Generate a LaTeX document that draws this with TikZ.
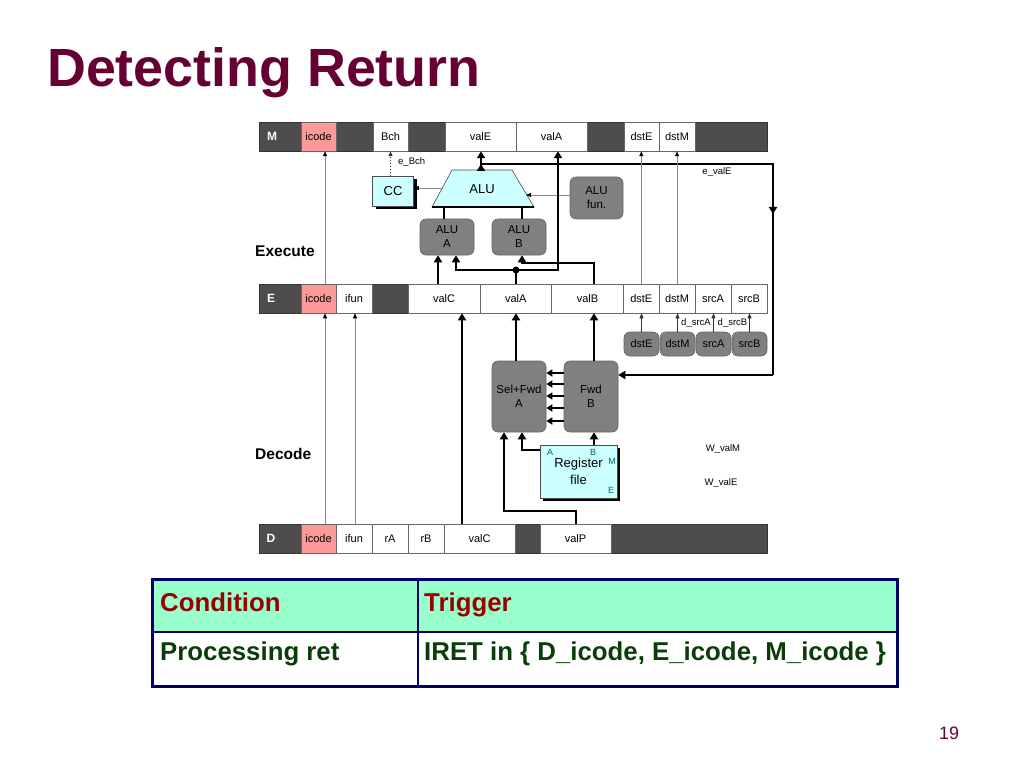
\documentclass[tikz,border=0pt]{standalone}
\usepackage{fontspec}
\setmainfont{Liberation Sans}
\usetikzlibrary{arrows.meta,calc,shadows}
\definecolor{darkbar}{HTML}{4D4D4D}
\definecolor{pinkc}{HTML}{FF9999}
\definecolor{cyanbox}{HTML}{CCFFFF}
\definecolor{graybox}{HTML}{808080}
\definecolor{titlered}{HTML}{660033}
\definecolor{mint}{HTML}{99FFCC}
\definecolor{navy}{HTML}{000066}
\definecolor{hdrred}{HTML}{990000}
\definecolor{bodygreen}{HTML}{0A3D0A}
\definecolor{thingray}{HTML}{888888}
\definecolor{tealc}{HTML}{006666}
\begin{document}
\begin{tikzpicture}[x=1pt,y=-1pt,
  bar/.style={fill=darkbar, draw=black!80, line width=0.6pt, minimum height=29pt, inner sep=0pt},
  cell/.style={fill=white, draw=black!60, line width=0.5pt, minimum height=29pt, inner sep=0pt, font=\fontsize{11}{13}\selectfont},
  pcell/.style={cell, fill=pinkc},
  barlbl/.style={text=white, font=\bfseries\fontsize{12}{14}\selectfont, inner sep=0pt},
  gbox/.style={fill=graybox, draw=black!60, line width=0.6pt, rounded corners=6pt, inner sep=0pt, align=center, font=\fontsize{11.5}{14}\selectfont},
  sbox/.style={gbox, minimum width=35pt, minimum height=24pt, font=\fontsize{11}{13}\selectfont},
  cbox/.style={fill=cyanbox, draw=black!70, line width=0.6pt, inner sep=0pt, align=center, drop shadow={shadow xshift=3pt, shadow yshift=-3pt, fill=black, opacity=1}},
  thk/.style={line width=2.8pt, -{Triangle[length=7pt,width=8pt]}},
  thkline/.style={line width=2.8pt},
  fwdarr/.style={line width=2.4pt, -{Triangle[length=6pt,width=7pt]}},
  thn/.style={draw=thingray, line width=0.8pt, -{Triangle[length=5pt,width=4pt,color=black]}},
  thnb/.style={draw=black!80, line width=0.8pt, -{Triangle[length=5pt,width=4pt]}},
  small/.style={font=\fontsize{9.5}{11}\selectfont, inner sep=0pt},
  rflbl/.style={font=\fontsize{9}{10}\selectfont, text=tealc, inner sep=0pt},
  stage/.style={font=\bfseries\fontsize{15.5}{18}\selectfont, anchor=west, inner sep=0pt},
  tcell/.style={draw=navy, line width=1.2pt, inner sep=0pt},
  hdr/.style={anchor=base west, inner sep=0pt, text=hdrred, font=\bfseries\fontsize{25.8}{30}\selectfont},
  body/.style={anchor=base west, inner sep=0pt, text=bodygreen, font=\bfseries\fontsize{25.8}{30}\selectfont}
]
\useasboundingbox (0,0) rectangle (1024,767);
\fill[white] (0,0) rectangle (1024,767);

% title
\node[anchor=base west, inner sep=0pt, text=titlered, font=\bfseries\fontsize{53.8}{60}\selectfont] (title) at (47,87) {Detecting Return};

% ---------- M register ----------
\node[bar, minimum width=508pt] (Mbar) at (513,136.5) {};
\node[barlbl] (Mlbl) at (272,136.5) {M};
\node[pcell, minimum width=35pt] (Micode) at (318.5,136.5) {icode};
\node[cell, minimum width=35pt] (MBch) at (390.5,136.5) {Bch};
\node[cell, minimum width=71pt] (MvalE) at (480.5,136.5) {valE};
\node[cell, minimum width=71pt] (MvalA) at (551.5,136.5) {valA};
\node[cell, minimum width=35pt] (MdstE) at (641.5,136.5) {dstE};
\node[cell, minimum width=36pt] (MdstM) at (677,136.5) {dstM};

% ---------- E register ----------
\node[bar, minimum width=508pt] (Ebar) at (513,298.5) {};
\node[barlbl] (Elbl) at (271,298.5) {E};
\node[pcell, minimum width=35pt] (Eicode) at (318.5,298.5) {icode};
\node[cell, minimum width=36pt] (Eifun) at (354,298.5) {ifun};
\node[cell, minimum width=72pt] (EvalC) at (444,298.5) {valC};
\node[cell, minimum width=71.5pt] (EvalA) at (515.75,298.5) {valA};
\node[cell, minimum width=72pt] (EvalB) at (587.5,298.5) {valB};
\node[cell, minimum width=35.4pt] (EdstE) at (641.3,298.5) {dstE};
\node[cell, minimum width=36pt] (EdstM) at (677,298.5) {dstM};
\node[cell, minimum width=36pt] (EsrcA) at (713,298.5) {srcA};
\node[cell, minimum width=36pt] (EsrcB) at (749,298.5) {srcB};

% ---------- D register ----------
\node[bar, minimum width=508pt] (Dbar) at (513,538.5) {};
\node[barlbl] (Dlbl) at (271,538.5) {D};
\node[pcell, minimum width=35pt] (Dicode) at (318.5,538.5) {icode};
\node[cell, minimum width=36pt] (Difun) at (354,538.5) {ifun};
\node[cell, minimum width=36pt] (DrA) at (390,538.5) {rA};
\node[cell, minimum width=36pt] (DrB) at (426,538.5) {rB};
\node[cell, minimum width=71pt] (DvalC) at (479.5,538.5) {valC};
\node[cell, minimum width=71pt] (DvalP) at (575.5,538.5) {valP};

% stage labels
\node[stage] (exe) at (255,251) {Execute};
\node[stage] (dec) at (255,454) {Decode};

% ---------- Execute logic ----------
\coordinate (t1) at (452,170);
\coordinate (t2) at (512,170);
\coordinate (t3) at (534,207);
\coordinate (t4) at (432,207);
\path[fill=cyanbox, draw=black!70, line width=0.6pt] (t1) -- (t2) -- (t3) -- (t4) -- cycle;
\draw[line width=2pt] (t4) -- (t3);
\node[font=\fontsize{13}{15}\selectfont, inner sep=0pt] (ALU) at (482,189) {ALU};

\node[cbox, minimum width=41pt, minimum height=30pt, font=\fontsize{13}{15}\selectfont] (CC) at (393,191) {CC};
\node[gbox, minimum width=54pt, minimum height=36pt] (ALUA) at (447,237) {ALU\\A};
\node[gbox, minimum width=54pt, minimum height=36pt] (ALUB) at (519,237) {ALU\\B};
\node[gbox, minimum width=53pt, minimum height=42pt] (ALUfun) at (596.5,198) {ALU\\fun.};

% ALU inputs from ALU A / B
\coordinate (aluInA) at (444,207);
\coordinate (aluInB) at (522,207);
\draw[thkline] (ALUA.north -| aluInA) -- (aluInA);
\draw[thkline] (ALUB.north -| aluInB) -- (aluInB);

% ALU -> CC, ALU fun -> ALU
\coordinate (aluL) at (443,188);
\coordinate (aluR) at (526,195);
\draw[thn] (aluL) -- (CC.east |- aluL);
\draw[thn] (ALUfun.west |- aluR) -- (aluR);

% e_Bch
\draw[black!80, line width=1pt, dotted, -{Triangle[length=5pt,width=4pt]}] (MBch.south |- CC.north) -- (MBch.south);
\node[small, anchor=west] (eBch) at (398,162) {e\_Bch};

% ALU output
\coordinate (aluTop) at (481,170);
\coordinate (junc) at (481,164);
\coordinate (rtop) at (773,164);
\coordinate (rmid) at (773,214);
\coordinate (rbot) at (773,375);
\draw[thk] (aluTop) -- (MvalE.south -| aluTop);
\draw[thk] (aluTop) -- (junc);
\draw[thkline] (junc) -- (rtop) -- (rbot);
\draw[thk] (rtop) -- (rmid);
\node[small] (evalE) at (717,172) {e\_valE};

% valC (E) -> ALU A
\coordinate (xalA1) at (438,0);
\draw[thk] (EvalC.north -| xalA1) -- (ALUA.south -| xalA1);

% valA (E) -> ALU A and M valA
\coordinate (dotA) at (516,270);
\coordinate (xalA2) at (456,0);
\coordinate (xMva) at (558,0);
\draw[thkline] (EvalA.north -| dotA) -- (dotA);
\draw[thk] (dotA) -| (ALUA.south -| xalA2);
\draw[thk] (dotA) -| (MvalA.south -| xMva);
\fill (dotA) circle (3.5pt);

% valB (E) -> ALU B
\coordinate (vbturn) at (594,263);
\coordinate (vbturn2) at (522,263);
\draw[thk] (EvalB.north -| vbturn) -- (vbturn) -- (vbturn2) -- (ALUB.south -| vbturn2);

% thin pass-through lines
\coordinate (xic) at (325,0);
\coordinate (xif) at (355,0);
\draw[thn] (Eicode.north -| xic) -- (Micode.south -| xic);
\draw[thn] (Dicode.north -| xic) -- (Eicode.south -| xic);
\draw[thn] (Difun.north -| xif) -- (Eifun.south -| xif);
\draw[thn] (EdstE.north) -- (EdstE.north |- MdstE.south);
\draw[thn] (EdstM.north) -- (MdstM.south);

% ---------- Decode logic ----------
\node[sbox] (sdstE) at (641.5,344) {dstE};
\node[sbox] (sdstM) at (677.5,344) {dstM};
\node[sbox] (ssrcA) at (713.5,344) {srcA};
\node[sbox] (ssrcB) at (749.5,344) {srcB};
\draw[thnb] (sdstE.north) -- (sdstE.north |- EdstE.south);
\draw[thnb] (sdstM.north) -- (sdstM.north |- EdstM.south);
\draw[thnb] (ssrcA.north) -- (ssrcA.north |- EsrcA.south);
\draw[thnb] (ssrcB.north) -- (ssrcB.north |- EsrcB.south);
\node[small, anchor=east] (dsrcA) at (711,323) {d\_srcA};
\node[small, anchor=east] (dsrcB) at (747.5,323) {d\_srcB};

\node[gbox, minimum width=54pt, minimum height=71pt] (SelA) at (519,396.5) {Sel+Fwd\\A};
\node[gbox, minimum width=54pt, minimum height=71pt] (FwdB) at (591,396.5) {Fwd\\B};
\node[cbox, minimum width=77pt, minimum height=53pt, font=\fontsize{13}{17}\selectfont] (RF) at (578.5,471.5) {Register\\file};
\node[rflbl] (rfA) at (550,452) {A};
\node[rflbl] (rfB) at (593,452) {B};
\node[rflbl] (rfM) at (612,461) {M};
\node[rflbl] (rfE) at (611,490) {E};

\node[small] (WvalM) at (723,449) {W\_valM};
\node[small] (WvalE) at (721,483) {W\_valE};

% e_valE into Fwd B
\draw[thk] (rbot) -- (FwdB.east |- rbot);

% Fwd B -> Sel+Fwd A
\foreach \yy in {373,384,396,408,421} {
  \coordinate (fy) at (0,\yy);
  \draw[fwdarr] (FwdB.west |- fy) -- (SelA.east |- fy);
}

% Sel/Fwd -> E
\coordinate (xvb) at (594,0);
\draw[thk] (SelA.north -| dotA) -- (EvalA.south -| dotA);
\draw[thk] (FwdB.north -| xvb) -- (EvalB.south -| xvb);

% Register file -> Sel/Fwd
\coordinate (rfa) at (522,450);
\draw[thk] (RF.west |- rfa) -- (rfa) -- (SelA.south -| rfa);
\draw[thk] (RF.north -| xvb) -- (FwdB.south -| xvb);

% valP -> Sel+Fwd A
\coordinate (vp1) at (576,511);
\coordinate (vp2) at (504,511);
\draw[thk] (DvalP.north -| vp1) -- (vp1) -- (vp2) -- (SelA.south -| vp2);

% valC D -> E
\coordinate (xvc) at (462,0);
\draw[thk] (DvalC.north -| xvc) -- (EvalC.south -| xvc);

% ---------- table ----------
\node[tcell, fill=mint, minimum width=265pt, minimum height=52pt] (h1) at (285.5,606) {};
\node[tcell, fill=mint, minimum width=479pt, minimum height=52pt] (h2) at (657.5,606) {};
\node[tcell, fill=white, minimum width=265pt, minimum height=54pt] (b1) at (285.5,659) {};
\node[tcell, fill=white, minimum width=479pt, minimum height=54pt] (b2) at (657.5,659) {};
\draw[navy, line width=3pt] (h1.north west) rectangle (b2.south east);
\node[hdr] (cond) at (160,611) {Condition};
\node[hdr] (trig) at (424,611) {Trigger};
\node[body] (proc) at (160,660) {Processing ret};
\node[body] (iret) at (424,660) {IRET in \{ D\_icode, E\_icode, M\_icode \}};

% page number
\node[font=\fontsize{18}{20}\selectfont, text=titlered, inner sep=0pt] (pg) at (949,733) {19};
\end{tikzpicture}
\end{document}
